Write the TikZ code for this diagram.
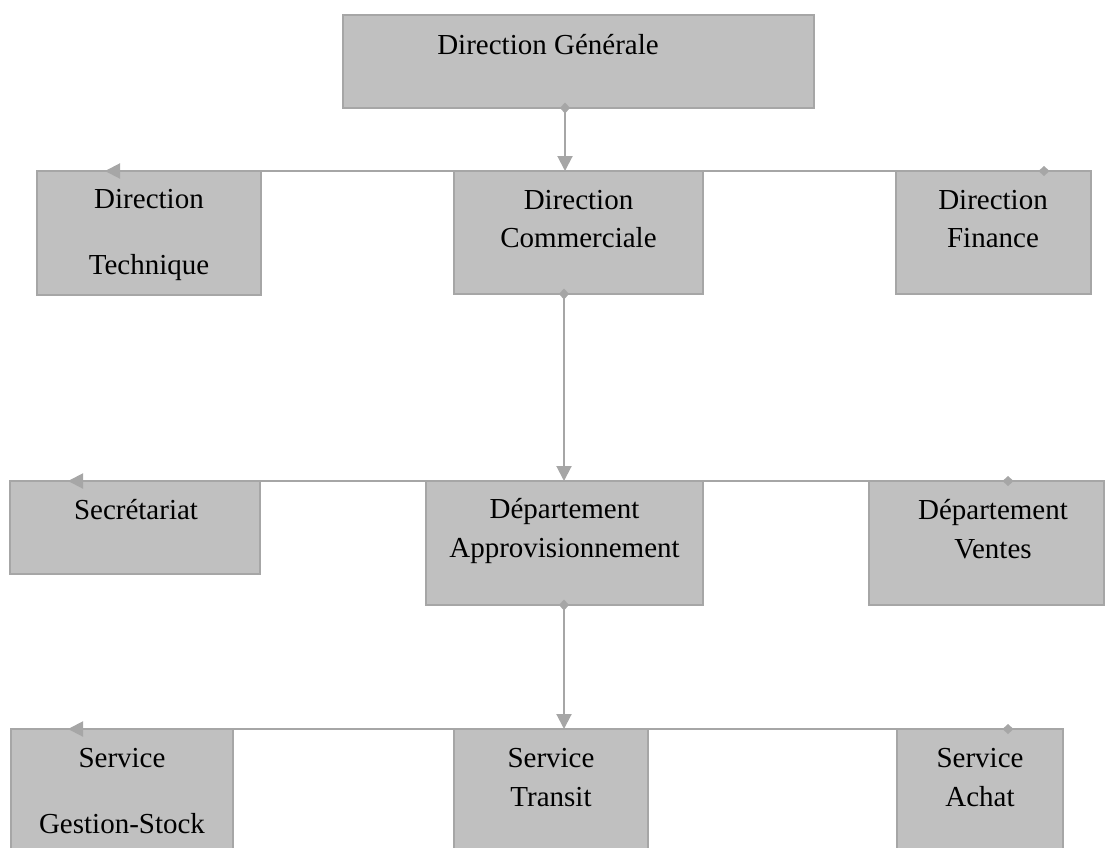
\documentclass[tikz,border=0pt]{standalone}
\usepackage{fontspec}
\setmainfont{Liberation Serif}
\usetikzlibrary{arrows.meta}
\definecolor{boxfill}{HTML}{C0C0C0}
\definecolor{boxline}{HTML}{A6A6A6}
\begin{document}
\begin{tikzpicture}[x=1pt,y=-1pt,
  box/.style={draw=boxline, line width=1.5pt, fill=boxfill, inner sep=0pt, outer sep=0pt},
  lbl/.style={font=\fontsize{29}{37}\selectfont, anchor=base, inner sep=0pt, text=black},
  conn/.style={draw=boxline, line width=2pt,
    {Diamond[length=11pt,width=10pt]}-{Triangle[length=15pt,width=15pt]}}]
\path[use as bounding box] (0,0) rectangle (1105,847);
\clip (0,0) rectangle (1105,847);
% boxes
\node[box, minimum width=471pt, minimum height=93pt]  (dg) at (578.5,61.5) {};
\node[box, minimum width=224pt, minimum height=124pt] (dt) at (149,233) {};
\node[box, minimum width=249pt, minimum height=123pt] (dc) at (578.5,232.5) {};
\node[box, minimum width=195pt, minimum height=123pt] (df) at (993.5,232.5) {};
\node[box, minimum width=250pt, minimum height=93pt]  (ds) at (135,527.5) {};
\node[box, minimum width=277pt, minimum height=124pt] (da) at (564.5,543) {};
\node[box, minimum width=235pt, minimum height=124pt] (dv) at (986.5,543) {};
\node[box, minimum width=222pt, minimum height=141pt] (sg) at (122,799.5) {};
\node[box, minimum width=194pt, minimum height=141pt] (st) at (551,799.5) {};
\node[box, minimum width=166pt, minimum height=141pt] (sa) at (980,799.5) {};
% texts
\node[lbl] (dg-a) at (548,54) {Direction Générale};
\node[lbl] (dt-a) at (149,208) {Direction};
\node[lbl] (dt-b) at (149,274) {Technique};
\node[lbl] (dc-a) at (578.5,209) {Direction};
\node[lbl] (dc-b) at (578.5,247) {Commerciale};
\node[lbl] (df-a) at (993,209) {Direction};
\node[lbl] (df-b) at (993,247) {Finance};
\node[lbl] (ds-a) at (136,519) {Secrétariat};
\node[lbl] (da-a) at (564.5,518) {Département};
\node[lbl] (da-b) at (564.5,557) {Approvisionnement};
\node[lbl] (dv-a) at (993,519) {Département};
\node[lbl] (dv-b) at (993,558) {Ventes};
\node[lbl] (sg-a) at (122,767) {Service};
\node[lbl] (sg-b) at (122,833) {Gestion-Stock};
\node[lbl] (st-a) at (551,767) {Service};
\node[lbl] (st-b) at (551,806) {Transit};
\node[lbl] (sa-a) at (980,767) {Service};
\node[lbl] (sa-b) at (980,806) {Achat};
% x positions of connector ends
\coordinate (v1) at (565,102.5);
\coordinate (v2) at (564,288.5);
\coordinate (v3) at (564,599.5);
\coordinate (h1s) at (1049.5,0);
\coordinate (h1e) at (105,0);
\coordinate (h2s) at (1013.5,0);
\coordinate (h2e) at (68,0);
% connectors
\draw[conn] (v1) -- (dc.north -| v1);
\draw[conn] (df.north -| h1s) -- (dt.north -| h1e);
\draw[conn] (v2) -- (da.north -| v2);
\draw[conn] (dv.north -| h2s) -- (ds.north -| h2e);
\draw[conn] (v3) -- (st.north -| v3);
\draw[conn] (sa.north -| h2s) -- (sg.north -| h2e);
\end{tikzpicture}
\end{document}
